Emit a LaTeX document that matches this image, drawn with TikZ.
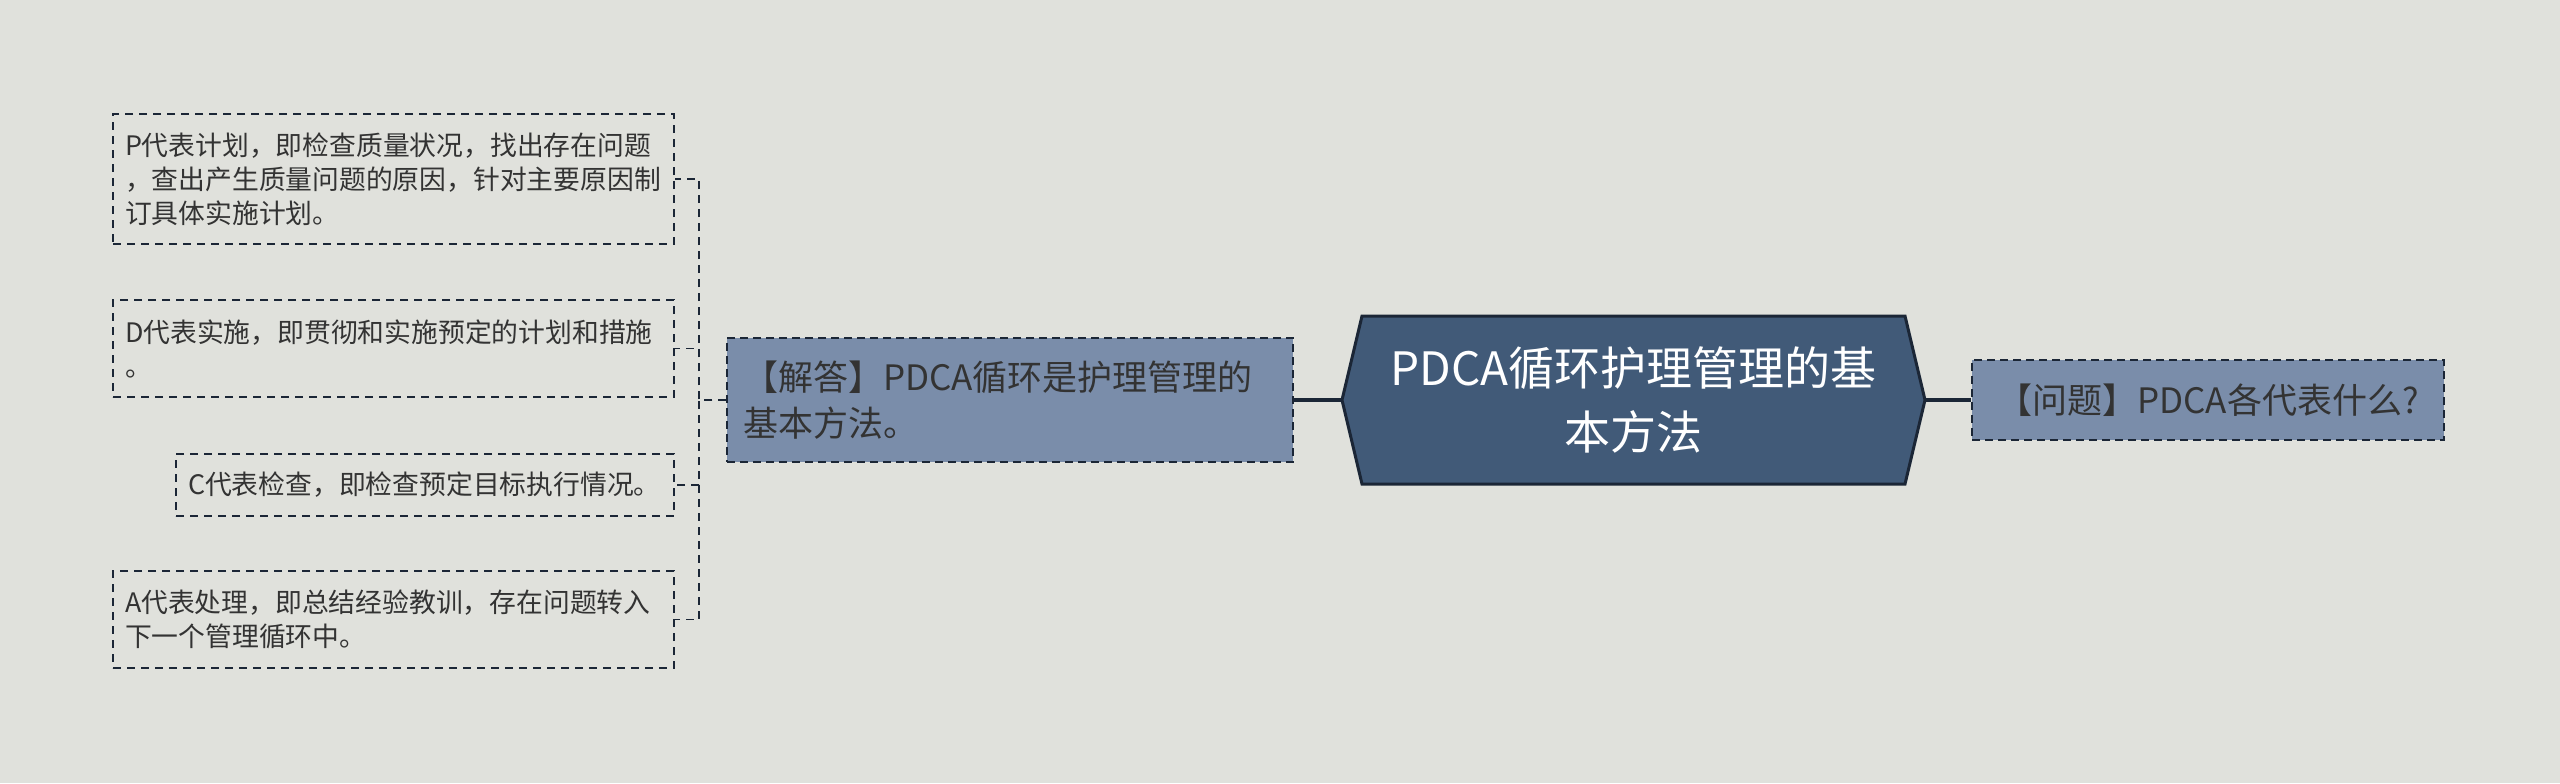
\documentclass[tikz,border=0pt]{standalone}
\usepackage{fontspec}
\setmainfont{Noto Sans CJK SC}
\usepackage{xcolor}
\definecolor{bgcol}{HTML}{E0E1DC}
\definecolor{boxcol}{HTML}{7A8DAA}
\definecolor{maincol}{HTML}{415A78}
\definecolor{linecol}{HTML}{1B2636}
\definecolor{textcol}{HTML}{333333}
\tikzstyle{leaf box}=[
    draw = linecol,
    line width = 0.9pt,
    dash pattern = on 4pt off 3pt,
    text = textcol,
    font = \fontsize{13.4pt}{17pt}\selectfont,
    align = left,
    inner xsep = 6pt
]
\tikzstyle{blue box}=[
    draw = linecol,
    line width = 1pt,
    dash pattern = on 4pt off 2.5pt,
    fill = boxcol,
    text = textcol,
    font = \fontsize{17.5pt}{23pt}\selectfont,
    inner xsep = 8pt
]

\begin{document}
\begin{tikzpicture}[x=0.5pt, y=-0.5pt, hex/.style = {draw = linecol, line width = 1.5pt, fill = maincol}, main/.style = {text = white, font = \fontsize{23pt}{32pt}\selectfont, align = center, minimum width = 271pt, minimum height = 84pt, inner sep = 0pt}, link/.style = {draw = linecol, line width = 0.9pt, dash pattern = on 4pt off 3pt}, trunk/.style = {draw = linecol, line width = 2pt}]
        \useasboundingbox[fill = bgcol] (0,0) rectangle (2560,783);
        \filldraw[hex] (1362,316) -- (1342,400) -- (1362,484) -- (1905,484) -- (1925,400) -- (1905,316) -- cycle;

        \node[main] (0) at (1633.5,400) {PDCA循环护理管理的基\\本方法};
        \node[blue box, align = left, text width = 267pt, minimum height = 62pt] (1) at (1010,400) {【解答】PDCA循环是护理管理的\\基本方法。};
        \node[blue box, align = center, minimum width = 236pt, minimum height = 40pt] (2) at (2208,400) {【问题】PDCA各代表什么?};
        \node[leaf box, text width = 268.5pt, minimum height = 65pt] (3) at (393.5,179) {P代表计划，即检查质量状况，找出存在问题\\，查出产生质量问题的原因，针对主要原因制\\订具体实施计划。};
        \node[leaf box, text width = 268.5pt, minimum height = 48.5pt] (4) at (393.5,348.5) {D代表实施，即贯彻和实施预定的计划和措施\\。};
        \node[leaf box, text width = 237pt, minimum height = 31pt] (5) at (425,485) {C代表检查，即检查预定目标执行情况。};
        \node[leaf box, text width = 268.5pt, minimum height = 48.5pt] (6) at (393.5,619.5) {A代表处理，即总结经验教训，存在问题转入\\下一个管理循环中。};

        \draw[trunk] (1.east) -- ([xshift = -10pt]0.west);
        \draw[trunk] ([xshift = 10pt]0.east) -- (2.west);
        \draw[link] (1.west) -- +(-27,0) |- (3.east);
        \draw[link] (1.west) -- +(-27,0) |- (4.east);
        \draw[link] (1.west) -- +(-27,0) |- (5.east);
        \draw[link] (1.west) -- +(-27,0) |- (6.east);

    \end{tikzpicture}
\end{document}
